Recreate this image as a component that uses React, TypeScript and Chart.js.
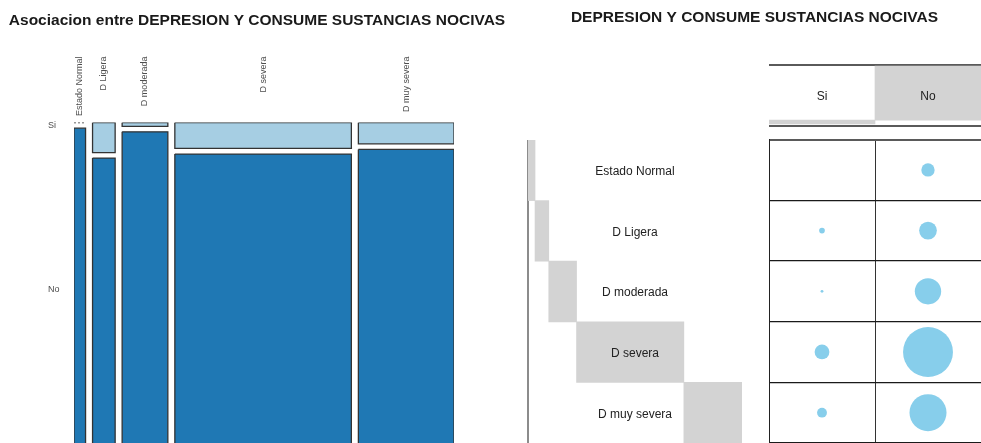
import React, { useEffect, useRef } from "react";
import { Chart, registerables } from "chart.js";

Chart.register(...registerables);

// ---------------- data ----------------
const categories = ["Estado Normal", "D Ligera", "D moderada", "D severa", "D muy severa"];
const responseLevels = ["Si", "No"];
const countSi = [0, 4, 1, 27, 12];
const countNo = [22, 39, 86, 309, 170];

const leftTitle = "Asociacion entre DEPRESION Y CONSUME SUSTANCIAS NOCIVAS";
const rightTitle = "DEPRESION Y CONSUME SUSTANCIAS NOCIVAS";

// ---------------- style ----------------
const FONT = '"Liberation Sans", Arial, Helvetica, sans-serif';
const COLOR_SI = "#A6CEE3";
const COLOR_NO = "#1F78B4";
const MOSAIC_BORDER = "#333333";
const MARGIN_GRAY = "#D3D3D3";
const BALLOON = "#87CEEB";
const GAP_X = 0.0184; // spacing between mosaic columns (fraction of width)
const GAP_Y = 0.017; // spacing between Si / No tiles (fraction of height)
const BALLOON_SCALE = 1.42; // radius px per sqrt(count)

// ---------------- derived ----------------
const totals = categories.map((_, i) => countSi[i] + countNo[i]);
const grand = totals.reduce((a, b) => a + b, 0);
const totalSi = countSi.reduce((a, b) => a + b, 0);
const totalNo = countNo.reduce((a, b) => a + b, 0);

const usableX = 1 - GAP_X * (categories.length - 1);
const mosaicCols = (() => {
  let x = 0;
  return totals.map((t, i) => {
    const w = (usableX * t) / grand;
    const siH = ((1 - GAP_Y) * countSi[i]) / t;
    const c = { x0: x, x1: x + w, mid: x + w / 2, si0: 0, si1: siH, no0: siH + GAP_Y, no1: 1 };
    x += w + GAP_X;
    return c;
  });
})();

const rect = (x0: number, x1: number, y0: number, y1: number) => [
  { x: x0, y: y0 },
  { x: x1, y: y0 },
  { x: x1, y: y1 },
  { x: x0, y: y1 },
  { x: x0, y: y0 },
];

const fixedWidth = (w: number) => (axis: any) => {
  axis.width = w;
};

// ---------------- plugins ----------------
const mosaicLabels = {
  id: "mosaicLabels",
  afterDatasetsDraw(chart: any) {
    const { ctx, chartArea, scales } = chart;
    const x = scales.x;
    const y = scales.y;
    ctx.save();
    ctx.font = `9px ${FONT}`;
    ctx.fillStyle = "#4d4d4d";
    mosaicCols.forEach((c, i) => {
      const px = x.getPixelForValue(c.mid);
      ctx.save();
      ctx.translate(px, chartArea.top - 66);
      ctx.rotate(-Math.PI / 2);
      ctx.textAlign = "right";
      ctx.textBaseline = "middle";
      ctx.fillText(categories[i], 0, 0);
      ctx.restore();
    });
    const first = mosaicCols[0];
    ctx.textAlign = "left";
    ctx.textBaseline = "middle";
    ctx.fillText(responseLevels[0], chartArea.left - 26, y.getPixelForValue((first.si0 + first.si1) / 2) + 3);
    ctx.fillText(responseLevels[1], chartArea.left - 26, y.getPixelForValue((first.no0 + first.no1) / 2));
    ctx.restore();
  },
};

const rowLabels = {
  id: "rowLabels",
  afterDatasetsDraw(chart: any) {
    const { ctx, chartArea, scales } = chart;
    ctx.save();
    ctx.font = `12px ${FONT}`;
    ctx.fillStyle = "#222";
    ctx.textAlign = "center";
    ctx.textBaseline = "middle";
    const cx = (chartArea.left + chartArea.right) / 2;
    categories.forEach((c, i) => {
      ctx.fillText(c, cx, scales.y.getPixelForValue(i) + 1.5);
    });
    ctx.restore();
  },
};

const headerLabels = {
  id: "headerLabels",
  afterDatasetsDraw(chart: any) {
    const { ctx, chartArea, scales } = chart;
    ctx.save();
    ctx.font = `12px ${FONT}`;
    ctx.fillStyle = "#222";
    ctx.textAlign = "center";
    ctx.textBaseline = "middle";
    const cy = (chartArea.top + chartArea.bottom) / 2 + 1.5;
    responseLevels.forEach((l, i) => {
      ctx.fillText(l, scales.x.getPixelForValue(i), cy);
    });
    ctx.restore();
  },
};

// ---------------- configs ----------------
function mosaicConfig(): any {
  const datasets: any[] = [];
  mosaicCols.forEach((c, i) => {
    if (countSi[i] > 0) {
      datasets.push({
        data: rect(c.x0, c.x1, c.si0, c.si1),
        fill: "shape",
        backgroundColor: COLOR_SI,
        borderColor: MOSAIC_BORDER,
        borderWidth: 1.3,
        pointRadius: 0,
        tension: 0,
      });
    } else {
      datasets.push({
        data: [
          { x: c.x0, y: 0 },
          { x: c.x1, y: 0 },
        ],
        fill: false,
        borderColor: "#333",
        borderWidth: 1.5,
        borderDash: [2, 2],
        pointRadius: 0,
      });
    }
    datasets.push({
      data: rect(c.x0, c.x1, c.no0, c.no1),
      fill: "shape",
      backgroundColor: COLOR_NO,
      borderColor: MOSAIC_BORDER,
      borderWidth: 1.3,
      pointRadius: 0,
      tension: 0,
    });
  });
  const hiddenAxis = {
    display: true,
    ticks: { display: false },
    grid: { display: false, drawTicks: false },
    border: { display: false },
  };
  return {
    type: "line",
    data: { datasets },
    options: {
      animation: false,
      responsive: false,
      events: [],
      layout: { padding: { bottom: 20 }, autoPadding: false },
      plugins: {
        legend: { display: false },
        tooltip: { enabled: false },
        title: {
          display: true,
          text: leftTitle,
          color: "#1a1a1a",
          font: { family: FONT, size: 15.5, weight: "bold", lineHeight: 1.2 },
          padding: { top: 11, bottom: 93 },
        },
      },
      scales: {
        x: { type: "linear", min: 0, max: 1, display: false },
        y: { type: "linear", min: 0, max: 1, reverse: true, position: "left", ...hiddenAxis, afterFit: fixedWidth(74) },
        yR: { type: "linear", position: "right", ...hiddenAxis, afterFit: fixedWidth(60) },
      },
    },
    plugins: [mosaicLabels],
  };
}

function balloonConfig(): any {
  const points: any[] = [];
  categories.forEach((_, i) => {
    points.push({ x: 0, y: i, r: BALLOON_SCALE * Math.sqrt(countSi[i]) });
    points.push({ x: 1, y: i, r: BALLOON_SCALE * Math.sqrt(countNo[i]) });
  });
  const xTicks = [-0.5, 0.5, 1.5];
  const yTicks = [-0.5, 0.5, 1.5, 2.5, 3.5, 4.5];
  return {
    type: "bubble",
    data: {
      datasets: [{ data: points, backgroundColor: BALLOON, borderWidth: 0, hoverRadius: 0 }],
    },
    options: {
      animation: false,
      responsive: false,
      events: [],
      clip: false,
      layout: { padding: { right: 1 }, autoPadding: false },
      plugins: {
        legend: { display: false },
        tooltip: { enabled: false },
        title: {
          display: true,
          text: rightTitle,
          color: "#1a1a1a",
          font: { family: FONT, size: 15.5, weight: "bold", lineHeight: 1.2 },
          padding: { top: 8, bottom: 113 },
        },
      },
      scales: {
        x: {
          type: "linear",
          min: -0.5,
          max: 1.5,
          afterBuildTicks: (axis: any) => {
            axis.ticks = xTicks.map((v) => ({ value: v }));
          },
          ticks: { display: false },
          grid: { color: "#333", lineWidth: 1, drawTicks: false },
          border: { display: true, color: "#bbb", width: 1 },
        },
        y: {
          type: "linear",
          min: -0.5,
          max: 4.5,
          reverse: true,
          afterBuildTicks: (axis: any) => {
            axis.ticks = yTicks.map((v) => ({ value: v }));
          },
          afterFit: fixedWidth(241),
          ticks: { display: false },
          grid: {
            color: (c: any) => (c.index === 0 ? "#5a5a5a" : "#1a1a1a"),
            lineWidth: (c: any) => (c.index === 0 ? 2 : 1.3),
            drawTicks: false,
          },
          border: { display: true, color: "#222", width: 1 },
        },
      },
    },
  };
}

function rowMarginConfig(): any {
  let acc = 0;
  const spans = totals.map((t) => {
    const s = [acc, acc + t];
    acc += t;
    return s;
  });
  return {
    type: "bar",
    data: {
      labels: categories,
      datasets: [
        {
          data: spans,
          backgroundColor: MARGIN_GRAY,
          borderWidth: 0,
          barPercentage: 1,
          categoryPercentage: 1,
        },
      ],
    },
    options: {
      animation: false,
      responsive: false,
      events: [],
      indexAxis: "y",
      layout: { padding: { left: 1 }, autoPadding: false },
      plugins: { legend: { display: false }, tooltip: { enabled: false } },
      scales: {
        x: { type: "linear", min: 0, max: grand, display: false },
        y: {
          type: "category",
          position: "left",
          ticks: { display: false },
          grid: { display: false, drawTicks: false },
          border: { display: true, color: "#8c8c8c", width: 2 },
        },
        y2: {
          type: "linear",
          position: "right",
          ticks: { display: false },
          grid: { display: false, drawTicks: false },
          border: { display: true, color: "#333", width: 1 },
        },
      },
    },
    plugins: [rowLabels],
  };
}

function headerConfig(): any {
  const spans = [
    [0, totalSi],
    [totalSi, totalSi + totalNo],
  ];
  return {
    type: "bar",
    data: {
      labels: responseLevels,
      datasets: [
        {
          data: spans,
          backgroundColor: MARGIN_GRAY,
          borderWidth: 0,
          barPercentage: 1,
          categoryPercentage: 1,
        },
      ],
    },
    options: {
      animation: false,
      responsive: false,
      events: [],
      layout: { padding: { top: 5, bottom: 6 }, autoPadding: false },
      plugins: { legend: { display: false }, tooltip: { enabled: false } },
      scales: {
        x: {
          type: "category",
          position: "bottom",
          ticks: { display: false },
          grid: { display: false, drawTicks: false },
          border: { display: true, color: "#5a5a5a", width: 2 },
        },
        x2: {
          type: "category",
          labels: responseLevels,
          position: "top",
          ticks: { display: false },
          grid: { display: false, drawTicks: false },
          border: { display: true, color: "#5a5a5a", width: 2 },
        },
        y: { type: "linear", display: false, min: -grand * 0.035, max: grand * 1.017 },
      },
    },
    plugins: [headerLabels],
  };
}

// ---------------- components ----------------
function ChartCanvas(props: { make: () => any; left: number; top: number; width: number; height: number }) {
  const ref = useRef<HTMLCanvasElement>(null);
  useEffect(() => {
    const chart = new Chart(ref.current as HTMLCanvasElement, props.make());
    return () => chart.destroy();
  }, []);
  return (
    <canvas
      ref={ref}
      width={props.width}
      height={props.height}
      style={{
        position: "absolute",
        left: props.left,
        top: props.top,
        width: props.width,
        height: props.height,
        display: "block",
      }}
    />
  );
}

export default function App() {
  return (
    <div
      style={{
        position: "fixed",
        left: 0,
        top: 0,
        width: 981,
        height: 443,
        overflow: "hidden",
        background: "#ffffff",
      }}
    >
      <ChartCanvas make={mosaicConfig} left={0} top={0} width={514} height={470} />
      <ChartCanvas make={balloonConfig} left={528} top={0} width={454} height={443} />
      <ChartCanvas make={rowMarginConfig} left={527} top={140} width={215} height={303} />
      <ChartCanvas make={headerConfig} left={769} top={60} width={212} height={72} />
    </div>
  );
}
